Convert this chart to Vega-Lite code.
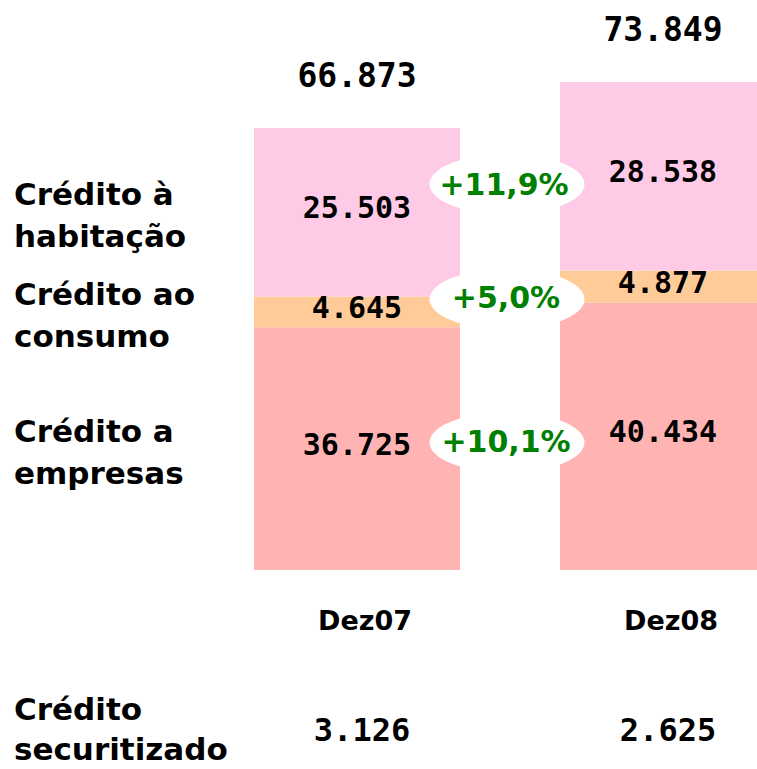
{
  "$schema": "https://vega.github.io/schema/vega-lite/v6.json",
  "width": 757,
  "height": 769,
  "autosize": {"type": "none"},
  "padding": 0,
  "background": "white",
  "config": {
    "view": {"stroke": null},
    "locale": {"number": {"decimal": ",", "thousands": ".", "grouping": [3], "currency": ["", " €"]}}
  },
  "datasets": {
    "segments": [
      {"year": "Dez07", "cat": "Crédito a\nempresas", "ord": 1, "value": 36725},
      {"year": "Dez07", "cat": "Crédito ao\nconsumo", "ord": 2, "value": 4645},
      {"year": "Dez07", "cat": "Crédito à\nhabitação", "ord": 3, "value": 25503},
      {"year": "Dez08", "cat": "Crédito a\nempresas", "ord": 1, "value": 40434},
      {"year": "Dez08", "cat": "Crédito ao\nconsumo", "ord": 2, "value": 4877},
      {"year": "Dez08", "cat": "Crédito à\nhabitação", "ord": 3, "value": 28538}
    ],
    "growth": [
      {"cat": "Crédito a\nempresas", "pct": 0.101},
      {"cat": "Crédito ao\nconsumo", "pct": 0.05},
      {"cat": "Crédito à\nhabitação", "pct": 0.119}
    ],
    "securitized": [
      {"year": "Dez07", "value": 3126},
      {"year": "Dez08", "value": 2625}
    ],
    "seclabel": [{"label": "Crédito\nsecuritizado"}]
  },
  "encoding": {
    "x": {
      "field": "year",
      "type": "nominal",
      "scale": {"type": "point", "domain": ["lbl", "Dez07", "Δ", "Dez08"], "range": [204, 663], "padding": 0},
      "axis": null
    }
  },
  "layer": [
    {
      "data": {"name": "segments"},
      "transform": [
        {"stack": "value", "groupby": ["year"], "sort": [{"field": "ord", "order": "ascending"}], "as": ["y0", "y1"]}
      ],
      "mark": {"type": "bar", "width": 206},
      "encoding": {
        "y": {"field": "y0", "type": "quantitative", "scale": {"domain": [-30108, 86240], "nice": false, "zero": false}, "axis": null},
        "y2": {"field": "y1"},
        "color": {
          "field": "cat",
          "type": "nominal",
          "scale": {"domain": ["Crédito à\nhabitação", "Crédito ao\nconsumo", "Crédito a\nempresas"], "range": ["#FFCAE6", "#FFCC99", "#FFB3B3"]},
          "legend": null
        }
      }
    },
    {
      "data": {"name": "segments"},
      "transform": [
        {"stack": "value", "groupby": ["year"], "sort": [{"field": "ord", "order": "ascending"}], "as": ["y0", "y1"]},
        {"calculate": "(datum.y0 + datum.y1) / 2", "as": "mid"}
      ],
      "mark": {"type": "text", "font": "DejaVu Sans Mono", "fontWeight": "bold", "fontSize": 30, "color": "black", "baseline": "middle", "dy": -3},
      "encoding": {
        "y": {"field": "mid", "type": "quantitative"},
        "text": {"field": "value", "type": "quantitative", "format": ","}
      }
    },
    {
      "data": {"name": "segments"},
      "transform": [{"aggregate": [{"op": "sum", "field": "value", "as": "total"}], "groupby": ["year"]}],
      "mark": {"type": "text", "font": "DejaVu Sans Mono", "fontWeight": "bold", "fontSize": 33, "color": "black", "baseline": "middle", "dy": -51},
      "encoding": {
        "y": {"field": "total", "type": "quantitative"},
        "text": {"field": "total", "type": "quantitative", "format": ","}
      }
    },
    {
      "data": {"name": "segments"},
      "transform": [
        {"stack": "value", "groupby": ["year"], "sort": [{"field": "ord", "order": "ascending"}], "as": ["y0", "y1"]},
        {"calculate": "(datum.y0 + datum.y1) / 2", "as": "mid"},
        {"filter": "datum.year === 'Dez07'"}
      ],
      "mark": {"type": "text", "font": "DejaVu Sans", "fontWeight": "bold", "fontSize": 31, "color": "black", "align": "left", "baseline": "middle", "dx": -190, "dy": -16, "lineBreak": "\n", "lineHeight": 42},
      "encoding": {
        "x": {"datum": "lbl", "type": "nominal"},
        "y": {"field": "mid", "type": "quantitative"},
        "text": {"field": "cat", "type": "nominal"}
      }
    },
    {
      "data": {"name": "segments"},
      "transform": [
        {"stack": "value", "groupby": ["year"], "sort": [{"field": "ord", "order": "ascending"}], "as": ["y0", "y1"]},
        {"calculate": "(datum.y0 + datum.y1) / 2", "as": "mid"},
        {"aggregate": [{"op": "mean", "field": "mid", "as": "pmid"}], "groupby": ["cat"]},
        {"filter": "datum.cat !== 'Crédito à\\nhabitação'"}
      ],
      "mark": {"type": "point", "shape": "M-1,0A1,0.39,0,1,0,1,0A1,0.39,0,1,0,-1,0Z", "filled": true, "color": "white", "opacity": 1, "strokeWidth": 0, "size": 24025, "xOffset": -3},
      "encoding": {
        "x": {"datum": "Δ", "type": "nominal"},
        "y": {"field": "pmid", "type": "quantitative"}
      }
    },
    {
      "data": {"name": "segments"},
      "transform": [
        {"stack": "value", "groupby": ["year"], "sort": [{"field": "ord", "order": "ascending"}], "as": ["y0", "y1"]},
        {"calculate": "(datum.y0 + datum.y1) / 2", "as": "mid"},
        {"aggregate": [{"op": "mean", "field": "mid", "as": "pmid"}], "groupby": ["cat"]},
        {"filter": "datum.cat === 'Crédito à\\nhabitação'"}
      ],
      "mark": {"type": "point", "shape": "M-1,0A1,0.39,0,1,0,1,0A1,0.39,0,1,0,-1,0Z", "filled": true, "color": "white", "opacity": 1, "strokeWidth": 0, "size": 24025, "xOffset": -3, "yOffset": -10},
      "encoding": {
        "x": {"datum": "Δ", "type": "nominal"},
        "y": {"field": "pmid", "type": "quantitative"}
      }
    },
    {
      "data": {"name": "segments"},
      "transform": [
        {"stack": "value", "groupby": ["year"], "sort": [{"field": "ord", "order": "ascending"}], "as": ["y0", "y1"]},
        {"calculate": "(datum.y0 + datum.y1) / 2", "as": "mid"},
        {"aggregate": [{"op": "mean", "field": "mid", "as": "pmid"}], "groupby": ["cat"]},
        {"lookup": "cat", "from": {"data": {"name": "growth"}, "key": "cat", "fields": ["pct"]}},
        {"filter": "datum.cat !== 'Crédito à\\nhabitação'"}
      ],
      "mark": {"type": "text", "font": "DejaVu Sans", "fontWeight": "bold", "fontSize": 30, "color": "#008000", "baseline": "middle", "dx": -4},
      "encoding": {
        "x": {"datum": "Δ", "type": "nominal"},
        "y": {"field": "pmid", "type": "quantitative"},
        "text": {"field": "pct", "type": "quantitative", "format": "+.1%"}
      }
    },
    {
      "data": {"name": "segments"},
      "transform": [
        {"stack": "value", "groupby": ["year"], "sort": [{"field": "ord", "order": "ascending"}], "as": ["y0", "y1"]},
        {"calculate": "(datum.y0 + datum.y1) / 2", "as": "mid"},
        {"aggregate": [{"op": "mean", "field": "mid", "as": "pmid"}], "groupby": ["cat"]},
        {"lookup": "cat", "from": {"data": {"name": "growth"}, "key": "cat", "fields": ["pct"]}},
        {"filter": "datum.cat === 'Crédito à\\nhabitação'"}
      ],
      "mark": {"type": "text", "font": "DejaVu Sans", "fontWeight": "bold", "fontSize": 30, "color": "#008000", "baseline": "middle", "dx": -6, "dy": -8},
      "encoding": {
        "x": {"datum": "Δ", "type": "nominal"},
        "y": {"field": "pmid", "type": "quantitative"},
        "text": {"field": "pct", "type": "quantitative", "format": "+.1%"}
      }
    },
    {
      "data": {"name": "securitized"},
      "mark": {"type": "text", "font": "DejaVu Sans", "fontWeight": "bold", "fontSize": 27, "color": "black", "baseline": "middle", "dx": 8, "dy": 52},
      "encoding": {
        "y": {"datum": 0, "type": "quantitative"},
        "text": {"field": "year", "type": "nominal"}
      }
    },
    {
      "data": {"name": "securitized"},
      "mark": {"type": "text", "font": "DejaVu Sans Mono", "fontWeight": "bold", "fontSize": 32, "color": "black", "baseline": "middle", "dx": 5, "dy": 161},
      "encoding": {
        "y": {"datum": 0, "type": "quantitative"},
        "text": {"field": "value", "type": "quantitative", "format": ","}
      }
    },
    {
      "data": {"name": "seclabel"},
      "mark": {"type": "text", "font": "DejaVu Sans", "fontWeight": "bold", "fontSize": 31, "color": "black", "align": "left", "baseline": "middle", "dx": -190, "dy": 141, "lineBreak": "\n", "lineHeight": 40},
      "encoding": {
        "x": {"datum": "lbl", "type": "nominal"},
        "y": {"datum": 0, "type": "quantitative"},
        "text": {"field": "label", "type": "nominal"}
      }
    }
  ]
}
